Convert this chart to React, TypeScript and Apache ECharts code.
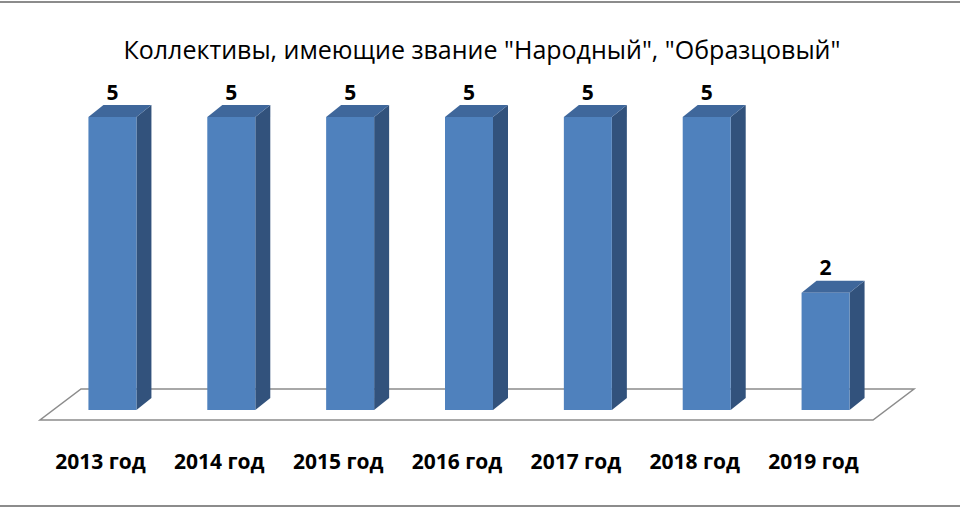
import React, { useEffect, useRef } from "react";
import * as echarts from "echarts";

const categories = ["2013 год", "2014 год", "2015 год", "2016 год", "2017 год", "2018 год", "2019 год"];
const values = [5, 5, 5, 5, 5, 5, 2];
const titleText = 'Коллективы, имеющие звание "Народный", "Образцовый"';

const DX = 15;
const DY = -12;
const BAR_W = 48;

export default function App() {
  const ref = useRef<HTMLDivElement>(null);
  useEffect(() => {
    if (!ref.current) return;
    const chart = echarts.init(ref.current, null, { renderer: "svg" });
    chart.setOption({
      animation: false,
      backgroundColor: "#ffffff",
      title: {
        text: titleText,
        left: 477,
        textAlign: "center",
        top: 31,
        textStyle: { fontFamily: "Open Sans", fontSize: 25, fontWeight: "normal", color: "#000" },
      },
      graphic: [
        { type: "line", shape: { x1: 0, y1: 2, x2: 960, y2: 2 }, style: { stroke: "#8c8c8c", lineWidth: 2 } },
        { type: "line", shape: { x1: 0, y1: 506, x2: 960, y2: 506 }, style: { stroke: "#8c8c8c", lineWidth: 2 } },
      ],
      grid: { left: 53, right: 75, top: 117, bottom: 100 },
      xAxis: {
        type: "category",
        data: categories,
        axisLine: { show: false },
        axisTick: { show: false },
        axisLabel: {
          margin: 40,
          padding: [0, 24, 0, 0],
          fontFamily: "Open Sans",
          fontSize: 21,
          fontWeight: "bold",
          color: "#000",
        },
      },
      yAxis: {
        type: "value",
        min: 0,
        max: 5,
        show: false,
        splitLine: { show: false },
      },
      series: [
        {
          type: "custom",
          data: [[0]],
          z: 1,
          silent: true,
          renderItem: (params: any, api: any) => {
            const cs = params.coordSys;
            const y0 = cs.y + cs.height;
            const l = cs.x;
            const r = cs.x + cs.width;
            return {
              type: "polygon",
              shape: {
                points: [
                  [l - 13, y0 + 10],
                  [r - 12, y0 + 10],
                  [r + 29, y0 - 21],
                  [l + 28, y0 - 21],
                ],
              },
              style: { fill: "#ffffff", stroke: "#8c8c8c", lineWidth: 1.5 },
            };
          },
        },
        {
          type: "custom",
          z: 2,
          data: values.map((v, i) => [i, v]),
          encode: { x: 0, y: 1 },
          renderItem: (params: any, api: any) => {
            const top = api.coord([api.value(0), api.value(1)]);
            const bot = api.coord([api.value(0), 0]);
            const x1 = top[0] - BAR_W / 2;
            const x2 = top[0] + BAR_W / 2;
            const yt = top[1];
            const yb = bot[1];
            return {
              type: "group",
              children: [
                {
                  type: "polygon",
                  shape: { points: [[x2, yt], [x2 + DX, yt + DY], [x2 + DX, yb + DY], [x2, yb]] },
                  style: { fill: "#32527c" },
                },
                {
                  type: "polygon",
                  shape: { points: [[x1, yt], [x1 + DX, yt + DY], [x2 + DX, yt + DY], [x2, yt]] },
                  style: { fill: "#3f679b" },
                },
                {
                  type: "rect",
                  shape: { x: x1, y: yt, width: BAR_W, height: yb - yt },
                  style: { fill: "#4f81bd" },
                },
                {
                  type: "text",
                  x: top[0],
                  y: yt + DY - 3,
                  style: {
                    text: String(api.value(1)),
                    fontFamily: "Open Sans",
                    fontSize: 21,
                    fontWeight: "bold",
                    fill: "#000",
                    align: "center",
                    verticalAlign: "bottom",
                  },
                },
              ],
            };
          },
        },
      ],
    });
    return () => chart.dispose();
  }, []);
  return <div ref={ref} style={{ position: "fixed", left: 0, top: 0, width: 960, height: 510 }} />;
}
